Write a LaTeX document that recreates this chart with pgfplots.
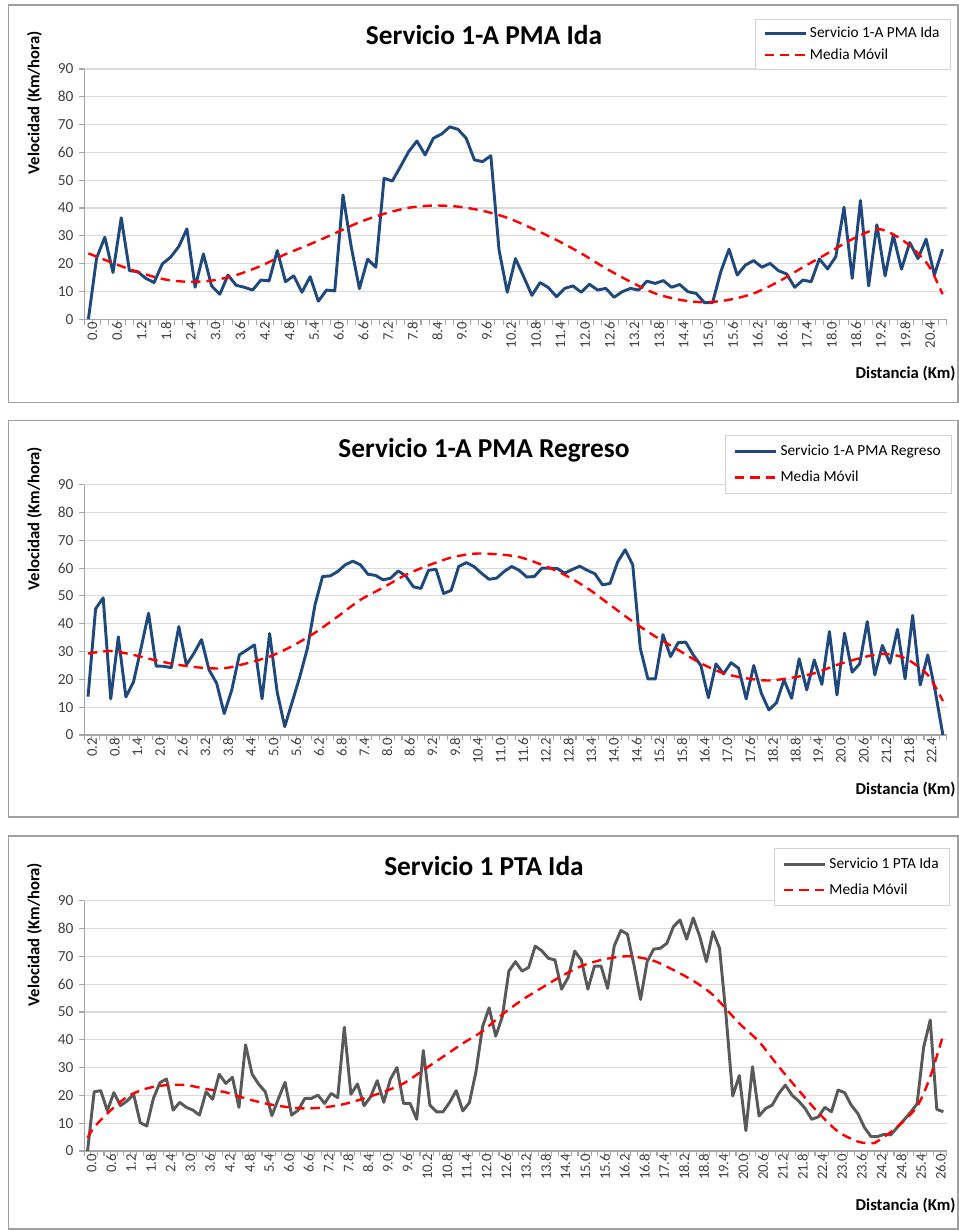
\documentclass[border=0pt]{standalone}
\usepackage{fontspec}
\setmainfont{Carlito}
\usepackage{pgfplots}
\pgfplotsset{compat=1.18}
\definecolor{serblue}{HTML}{1F497D}
\definecolor{sergray}{HTML}{595959}
\definecolor{gridc}{HTML}{D9D9D9}
\definecolor{axisc}{HTML}{A6A6A6}
\definecolor{tickc}{HTML}{404040}
\definecolor{framec}{HTML}{A0A0A0}
\definecolor{mavg}{HTML}{FF0000}
\pgfplotsset{
  panel/.style={
    scale only axis, width=646.8pt, height=187.7pt, anchor=south west,
    ymin=0, ymax=90, ytick={0,10,...,90}, minor ytick={0,10,...,90},
    ymajorgrids, grid style={gridc, line width=0.8pt},
    axis x line*=bottom, axis y line*=left,
    axis line style={axisc, line width=1pt, -},
    tick align=outside, major tick length=0pt, minor tick length=4pt,
    tick style={axisc, line width=0.8pt},
    ticklabel style={font=\fontsize{11}{13}\selectfont, text=tickc},
    /pgf/number format/assume math mode=true,
    xticklabel style={rotate=90, anchor=east, inner sep=2pt, yshift=-3pt},
    yticklabel style={inner sep=3pt, xshift=-5pt, font=\fontsize{11.5}{13}\selectfont},
    every axis y label/.style={at={(axis description cs:-0.0577,0.865)}, rotate=90, anchor=center,
      font=\bfseries\fontsize{12.5}{15}\selectfont},
    every axis x label/.style={at={(axis description cs:1.0105,-0.2186)}, anchor=east, inner sep=0pt,
      font=\bfseries\fontsize{12.5}{15}\selectfont},
    ylabel={Velocidad (Km/hora)}, xlabel={Distancia (Km)},
    legend cell align=left,
    legend style={draw=gray!35, fill=white, line width=0.6pt, font=\fontsize{11.5}{13.5}\selectfont,
      inner xsep=6pt, inner ysep=4pt, anchor=north east},
    legend image code/.code={\draw[#1] (0pt,0pt) -- (31pt,0pt);},
  },
  serie/.style={line width=2.2pt, line join=round},
  media/.style={mavg, line width=1.8pt, dash pattern=on 7pt off 4.5pt, smooth},
}
\begin{document}
\begin{tikzpicture}[x=1pt,y=1pt]
\path[use as bounding box] (0,0) rectangle (719.25,923.25);
\draw[framec, line width=1.1pt] (6.2,621.4) rectangle (718.6,919.5);
\draw[framec, line width=1.1pt] (6.2,310.5) rectangle (718.6,607.7);
\draw[framec, line width=1.1pt] (6.2,1.5) rectangle (718.6,296.3);
\node[font=\bfseries\fontsize{20.5}{24}\selectfont] at (363,897) {Servicio 1-A PMA Ida};
\node[font=\bfseries\fontsize{20.5}{24}\selectfont] at (363,585.8) {Servicio 1-A PMA Regreso};
\node[font=\bfseries\fontsize{20.5}{24}\selectfont] at (363,273.8) {Servicio 1 PTA Ida};

% ---------------- Panel 1 ----------------
\begin{axis}[panel, at={(63.2pt,683.8pt)},
  xmin=-0.5, xmax=104.5, xtick={0,3,...,102}, minor xtick={-0.5,0.5,...,104.5},
  xticklabel={\pgfmathparse{\tick*0.2}\pgfmathprintnumber[fixed,fixed zerofill,precision=1]{\pgfmathresult}},
  legend style={at={(1.0046,1.2)}, row sep=2.5pt}]
\addplot[serie, serblue] table[x expr=\coordindex, y index=0, header=false, row sep=\\] {
0\\22.0\\29.5\\16.8\\36.5\\17.5\\17.1\\14.7\\13.2\\19.9\\22.3\\26.1\\32.5\\11.5\\23.5\\12.0\\9.0\\15.9\\12.2\\11.5\\
10.5\\14.1\\13.8\\24.7\\13.5\\15.6\\9.7\\15.3\\6.5\\10.5\\10.2\\44.7\\26.1\\11.0\\21.6\\18.7\\50.7\\49.7\\54.9\\60.3\\
64.1\\59.1\\65.1\\66.6\\69.2\\68.3\\65.1\\57.3\\56.7\\58.8\\24.9\\9.7\\21.8\\15.3\\8.6\\13.2\\11.4\\8.1\\11.1\\12.0\\
9.7\\12.6\\10.5\\11.1\\7.9\\9.9\\11.1\\10.5\\13.7\\12.9\\13.9\\11.5\\12.5\\9.9\\9.3\\6.0\\6.0\\17.1\\25.2\\15.9\\
19.5\\21.1\\18.7\\20.1\\17.5\\16.3\\11.5\\14.1\\13.5\\21.7\\18.1\\22.5\\40.3\\14.7\\42.7\\12.0\\34.0\\15.6\\30.2\\18.0\\
27.6\\21.8\\28.8\\15.9\\25.2\\
};
\addlegendentry{Servicio 1-A PMA Ida}
\addplot[media] coordinates {
(0,23.7)(5,18.0)(9,14.5)(12,13.5)(15,13.9)(18,15.9)(21,19.2)(24,23.4)(27,27.0)(30,30.9)(33,34.9)(36,37.9)
(39,40.1)(42,40.9)(45,40.5)(48,39.0)(51,36.5)(54,32.7)(57,28.5)(60,23.7)(63,18.3)(66,13.5)(69,9.3)(72,7.0)
(75,6.1)(78,7.0)(81,9.3)(84,13.5)(87,18.7)(90,23.7)(93,28.8)(96,32.4)(98,30.5)(100,26.5)(102,20.5)(103,15.5)(104,9.0)};
\addlegendentry{Media Móvil}
\end{axis}

% ---------------- Panel 2 ----------------
\begin{axis}[panel, at={(63.2pt,372.0pt)},
  xmin=-0.5, xmax=113.5, xtick={0,3,...,111}, minor xtick={-0.5,0.5,...,113.5},
  xticklabel={\pgfmathparse{\tick*0.2+0.2}\pgfmathprintnumber[fixed,fixed zerofill,precision=1]{\pgfmathresult}},
  legend style={at={(1.0058,1.197)}, row sep=6pt, inner ysep=5pt}]
\addplot[serie, serblue] table[x expr=\coordindex, y index=0, header=false, row sep=\\] {
13.8\\45.4\\49.3\\13.0\\35.3\\13.7\\19.0\\31.2\\43.8\\24.8\\24.7\\24.2\\39.0\\25.2\\29.4\\34.3\\23.4\\18.6\\7.7\\16.2\\
28.8\\30.6\\32.4\\13.0\\36.5\\15.4\\3.0\\12.0\\21.0\\31.2\\46.8\\57.0\\57.2\\58.8\\61.2\\62.5\\61.2\\57.8\\57.4\\55.8\\
56.4\\59.0\\57.2\\53.3\\52.7\\59.2\\59.6\\50.9\\52.0\\60.6\\62.0\\60.6\\58.2\\56.0\\56.4\\58.8\\60.6\\59.2\\56.8\\57.0\\
60.0\\60.0\\59.9\\58.2\\59.5\\60.7\\59.2\\58.0\\54.0\\54.5\\62.2\\66.6\\61.2\\31.2\\20.2\\20.2\\36.1\\28.2\\33.2\\33.4\\
28.8\\25.0\\13.4\\25.6\\22.0\\26.0\\24.0\\13.0\\25.0\\15.0\\9.0\\11.6\\19.8\\13.2\\27.4\\16.2\\27.0\\18.2\\37.2\\14.4\\
36.6\\22.6\\25.6\\40.8\\21.6\\32.2\\25.8\\38.0\\20.2\\43.0\\18.0\\28.8\\15.6\\0\\
};
\addlegendentry{Servicio 1-A PMA Regreso}
\addplot[media] coordinates {
(0,29.3)(3,30.2)(6,28.8)(9,26.8)(12,25.2)(15,24.2)(18,24.0)(21,25.8)(24,28.2)(27,32.0)(30,36.8)(33,42.6)
(36,48.6)(39,53.0)(42,57.6)(45,61.0)(48,63.8)(51,65.2)(54,65.0)(57,64.0)(60,61.2)(63,57.6)(66,52.8)(69,46.8)
(72,40.8)(75,35.4)(78,30.6)(81,25.8)(84,22.2)(87,20.4)(90,19.6)(93,20.6)(96,22.2)(99,25.2)(102,27.6)(105,29.2)
(108,27.6)(111,21.6)(113,12.2)};
\addlegendentry{Media Móvil}
\end{axis}

% ---------------- Panel 3 ----------------
\begin{axis}[panel, at={(63.2pt,60.0pt)},
  xmin=-0.5, xmax=130.5, xtick={0,3,...,129}, minor xtick={-0.5,0.5,...,130.5},
  xticklabel={\pgfmathparse{\tick*0.2+(\tick>88)*0.2}\pgfmathprintnumber[fixed,fixed zerofill,precision=1]{\pgfmathresult}},
  legend style={at={(1.0035,1.21)}, row sep=6pt, inner ysep=5pt}]
\addplot[serie, sergray] table[x expr=\coordindex, y index=0, header=false, row sep=\\] {
0\\21.3\\21.7\\14.5\\21.0\\16.3\\18.0\\20.4\\10.2\\9.0\\18.9\\24.6\\25.9\\14.7\\17.5\\15.7\\14.7\\12.9\\21.3\\18.6\\
27.6\\24.3\\26.5\\15.7\\38.2\\27.6\\24.0\\21.3\\12.7\\18.9\\24.7\\12.9\\14.7\\18.9\\18.9\\20.1\\17.1\\20.7\\19.2\\44.5\\
20.4\\24.1\\16.3\\19.5\\25.3\\17.5\\25.8\\30.0\\17.1\\17.1\\11.4\\36.1\\16.5\\14.1\\14.1\\17.5\\21.7\\14.4\\17.4\\28.5\\
44.7\\51.5\\41.3\\48.3\\64.7\\68.1\\64.7\\66.0\\73.7\\72.0\\69.3\\68.7\\58.2\\62.4\\71.9\\68.7\\58.2\\66.5\\66.5\\58.5\\
73.7\\79.3\\78.0\\66.9\\54.5\\68.1\\72.6\\72.9\\74.7\\80.7\\83.1\\76.2\\83.8\\77.1\\68.1\\78.9\\72.9\\48.3\\19.8\\27.1\\
7.3\\30.3\\12.6\\15.3\\16.5\\20.7\\23.7\\20.1\\18.0\\15.3\\11.4\\12.3\\15.7\\14.1\\21.9\\21.0\\16.5\\13.5\\8.5\\5.2\\
5.2\\6.0\\5.8\\8.5\\11.1\\13.9\\16.9\\37.3\\47.1\\15.0\\14.1\\
};
\addlegendentry{Servicio 1 PTA Ida}
\addplot[media] coordinates {
(0,4.8)(1,8.5)(3,13.5)(6,19.5)(9,22.5)(12,23.7)(15,23.7)(18,22.3)(21,21.1)(24,18.9)(27,17.1)(30,15.9)
(33,15.3)(36,15.7)(39,16.9)(42,18.9)(45,21.3)(48,24.3)(51,29.1)(54,33.9)(57,38.7)(60,43.1)(63,49.1)(66,54.3)
(69,58.7)(72,62.9)(75,66.5)(78,68.7)(81,69.9)(83,69.9)(86,68.4)(89,65.1)(92,61.2)(95,56.1)(99,45.9)(102,39.3)
(105,30.3)(108,21.9)(111,13.8)(114,7.0)(117,3.4)(119,2.8)(120,3.5)(123,8.7)(126,16.0)(128,26.7)(130,42.0)};
\addlegendentry{Media Móvil}
\end{axis}
\end{tikzpicture}
\end{document}
